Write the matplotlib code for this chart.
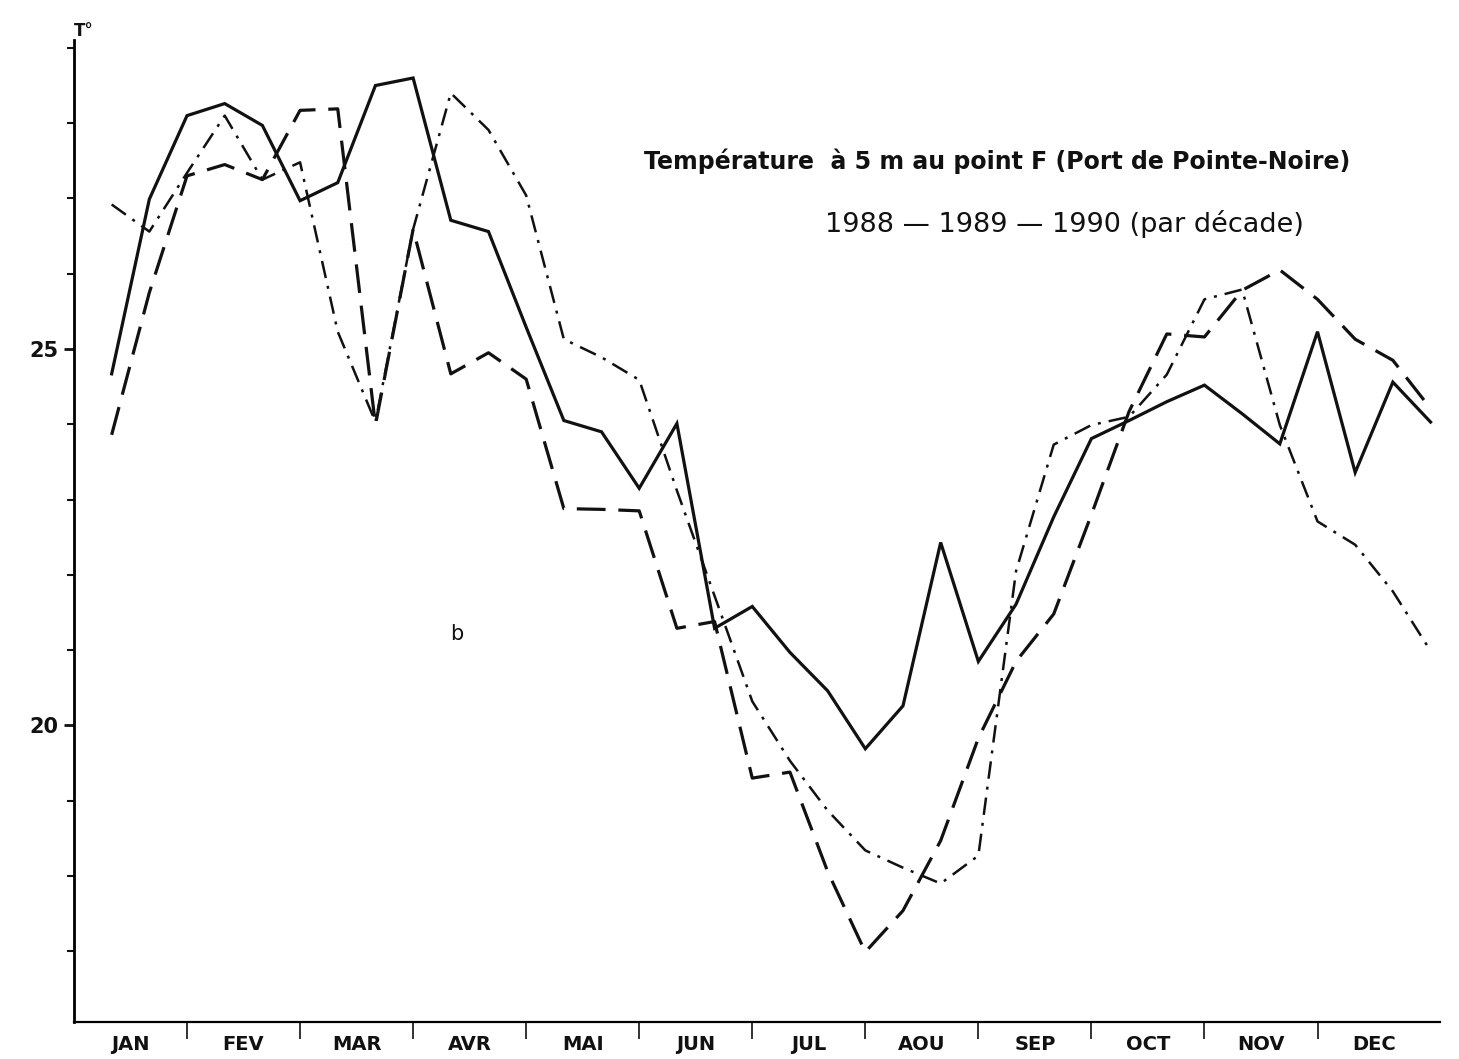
"""
Température à 5 m au point F (Port de Pointe-Noire), 1988-1989-1990, par décade.
Redrawn from a scanned figure.
"""

import numpy as np
import matplotlib
matplotlib.use("Agg")
import matplotlib.pyplot as plt

# ── Data (one value per décade, 3 per month) ───────────────────────────────
MONTHS = ["JAN", "FEV", "MAR", "AVR", "MAI", "JUN",
          "JUL", "AOU", "SEP", "OCT", "NOV", "DEC"]

# solid line
T_SOLID = [24.67, 26.99, 28.10, 28.26, 27.97, 26.97, 27.21, 28.50, 28.60,
           26.71, 26.56, 25.29, 24.05, 23.90, 23.15, 24.01, 21.29, 21.58,
           20.97, 20.46, 19.69, 20.26, 22.43, 20.85, 21.61, 22.77, 23.81,
           24.05, 24.30, 24.52, 24.14, 23.74, 25.23, 23.36, 24.56, 24.03]

# long dashes
T_DASHED = [23.86, 25.75, 27.30, 27.45, 27.25, 28.17, 28.19, 23.99, 26.59,
            24.67, 24.95, 24.60, 22.88, 22.87, 22.85, 21.29, 21.38, 19.30,
            19.38, 18.06, 16.99, 17.54, 18.47, 19.83, 20.85, 21.48, 22.80,
            24.17, 25.20, 25.16, 25.78, 26.05, 25.66, 25.13, 24.85, 24.21]

# dash-dot
T_DASHDOT = [26.92, 26.56, 27.34, 28.10, 27.25, 27.48, 25.23, 24.03, 26.59,
             28.40, 27.91, 27.04, 25.13, 24.89, 24.59, 23.12, 21.72, 20.32,
             19.53, 18.87, 18.34, 18.11, 17.90, 18.27, 22.05, 23.73, 23.99,
             24.10, 24.66, 25.66, 25.79, 23.99, 22.71, 22.40, 21.78, 20.99]

# x position of each décade, in months (end of each ten-day period)
decade = np.arange(len(T_SOLID))
x = (decade + 1) / 3.0

INK = "#111111"

fig = plt.figure(figsize=(14.59, 10.59), dpi=100)
ax = fig.add_axes([0.0507, 0.0349, 0.936, 0.927])

ax.plot(x, T_SOLID, "-", color=INK, linewidth=2.3, solid_joinstyle="miter")
ax.plot(x, T_DASHED, color=INK, linewidth=2.3, dashes=(9, 4))
ax.plot(x, T_DASHDOT, color=INK, linewidth=1.8, dashes=(7, 3.2, 1.2, 3.2))

ax.set_xlim(0, 12.08)
ax.set_ylim(16.06, 29.1)

# ── axes: only left + bottom, like the hand-drawn original ────────────────
for side in ("top", "right"):
    ax.spines[side].set_visible(False)
ax.spines["left"].set_linewidth(2.0)
ax.spines["bottom"].set_linewidth(1.6)

# month boundaries as ticks, month names centred between them
ax.set_xticks(np.arange(1, 12))
ax.set_xticklabels([])
ax.set_xticks(np.arange(12) + 0.5, minor=True)
ax.set_xticklabels(MONTHS, minor=True, fontsize=14, fontweight="bold",
                   family=["Liberation Sans Narrow", "DejaVu Sans"])
ax.tick_params(axis="x", which="major", direction="out", length=12, width=1.2,
               color=INK)
ax.tick_params(axis="x", which="minor", length=0, pad=9, colors=INK)

ax.set_yticks([20, 25])
ax.set_yticklabels(["20", "25"], fontsize=15, fontweight="bold")
ax.set_yticks(np.arange(17, 30), minor=True)
ax.tick_params(axis="y", which="major", direction="out", length=7, width=2,
               pad=4, colors=INK)
ax.tick_params(axis="y", which="minor", direction="out", length=5, width=1.5,
               color=INK)

ax.text(0.0, 29.1, "T°", fontsize=12, fontweight="bold", ha="left",
        va="bottom", color=INK)

# ── annotations ────────────────────────────────────────────────────────────
ax.text(8.17, 27.50, "Température  à 5 m au point F (Port de Pointe-Noire)",
        fontsize=17, ha="center", va="center", color=INK, fontweight="bold")
ax.text(8.76, 26.66, "1988 — 1989 — 1990 (par décade)",
        fontsize=19.5, ha="center", va="center", color=INK)
ax.text(3.39, 21.21, "b", fontsize=15, ha="center", va="center", color=INK)

plt.savefig("out.png", dpi=100)
plt.close()
